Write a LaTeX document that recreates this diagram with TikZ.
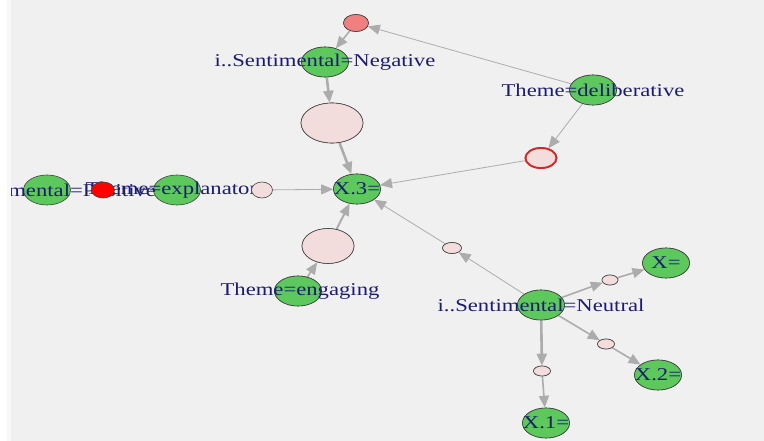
\documentclass[tikz,border=0pt]{standalone}
\usepackage{fontspec}
\setmainfont{Liberation Serif}
\usepackage{graphicx}
\usetikzlibrary{shapes.geometric,arrows.meta}
\definecolor{bg}{HTML}{F0F0F0}
\definecolor{bgedge}{HTML}{F7F7F7}
\definecolor{grn}{HTML}{5DC95D}
\definecolor{pnk}{HTML}{F2DCDC}
\definecolor{rosy}{HTML}{F08080}
\definecolor{lbl}{HTML}{1C1C6E}
\definecolor{edg}{HTML}{ACACAC}
\definecolor{ringred}{HTML}{D02828}
\newcommand{\wtxt}[1]{\scalebox{1.26}[1]{#1}}
\begin{document}
\begin{tikzpicture}[x=1pt,y=-1pt,
  vtx/.style={ellipse, draw=black!75, line width=0.6pt, inner sep=0pt},
  gnode/.style={vtx, fill=grn, minimum width=47pt, minimum height=30pt},
  pnode/.style={vtx, fill=pnk},
  lab/.style={inner sep=0pt, text=lbl, font=\fontsize{18}{18}\selectfont},
  conn/.style={draw=edg, line width=#1, -{Triangle[length=12pt,width=10pt]}},
  conn/.default=0.8pt
]
\useasboundingbox (0,0) rectangle (764,441);
\fill[white] (0,0) rectangle (764,441);
\fill[bgedge] (7,0) rectangle (764,441);
\fill[bg] (11,0) rectangle (764,441);
\clip (11,0) rectangle (764,441);

% vertex positions
\coordinate (cTop) at (356,23);
\coordinate (cNeg) at (325,62);
\coordinate (cDel) at (593,90);
\coordinate (cBigA) at (332,123);
\coordinate (cRing) at (541,158);
\coordinate (cX3) at (357,189);
\coordinate (cPos) at (47,190);
\coordinate (cRed) at (103,190);
\coordinate (cExp) at (177,190);
\coordinate (cPk262) at (262,190);
\coordinate (cBigB) at (328,246);
\coordinate (cPk452) at (452,248);
\coordinate (cEng) at (298,291);
\coordinate (cNeu) at (541,305);
\coordinate (cX) at (666,263);
\coordinate (cPk610) at (610,280);
\coordinate (cPk606) at (606,344);
\coordinate (cX2) at (658,375);
\coordinate (cPk542) at (542,371);
\coordinate (cX1) at (546,423);

% green item vertices
\node[gnode] (neg) at (cNeg) {};
\node[gnode] (del) at (cDel) {};
\node[gnode] (x3) at (cX3) {};
\node[gnode] (pos) at (cPos) {};
\node[gnode] (exp) at (cExp) {};
\node[gnode] (eng) at (cEng) {};
\node[gnode] (neu) at (cNeu) {};
\node[gnode] (xx) at (cX) {};
\node[gnode] (x2) at (cX2) {};
\node[gnode] (x1) at (cX1) {};

% rule vertices
\node[vtx, fill=rosy, minimum width=25pt, minimum height=17pt] (top) at (cTop) {};
\node[pnode, minimum width=62pt, minimum height=40pt] (biga) at (cBigA) {};
\node[pnode, draw=ringred, line width=1.8pt, minimum width=31pt, minimum height=20pt] (ring) at (cRing) {};
\node[pnode, minimum width=52pt, minimum height=35pt] (bigb) at (cBigB) {};
\node[pnode, minimum width=19pt, minimum height=11pt] (p452) at (cPk452) {};
\node[pnode, minimum width=16pt, minimum height=10pt] (p610) at (cPk610) {};
\node[pnode, minimum width=17pt, minimum height=10pt] (p606) at (cPk606) {};
\node[pnode, minimum width=17pt, minimum height=10pt] (p542) at (cPk542) {};

% edges
\draw[conn=0.8pt] (del) -- (top);
\draw[conn=1.6pt] (top) -- (neg);
\draw[conn=2.6pt] (neg) -- (biga);
\draw[conn=2.6pt] (biga) -- (x3);
\draw[conn=0.8pt] (del) -- (ring);
\draw[conn=0.8pt] (ring) -- (x3);
\draw[conn=0.8pt] (cPk262) -- (x3);
\draw[conn=1.6pt] (eng) -- (bigb);
\draw[conn=2.0pt] (bigb) -- (x3);
\draw[conn=0.8pt] (neu) -- (p452);
\draw[conn=0.8pt] (p452) -- (x3);
\draw[conn=1.6pt] (neu) -- (p610);
\draw[conn=1.6pt] (p610) -- (xx);
\draw[conn=1.6pt] (neu) -- (p606);
\draw[conn=1.6pt] (p606) -- (x2);
\draw[conn=2.6pt] (neu) -- (p542);
\draw[conn=1.6pt] (p542) -- (x1);

% redraw vertices above edges
\node[gnode] at (cNeg) {};
\node[gnode] at (cDel) {};
\node[gnode] at (cX3) {};
\node[gnode] at (cEng) {};
\node[gnode] at (cNeu) {};
\node[gnode] at (cX) {};
\node[gnode] at (cX2) {};
\node[gnode] at (cX1) {};
\node[vtx, fill=rosy, minimum width=25pt, minimum height=17pt] at (cTop) {};
\node[pnode, minimum width=62pt, minimum height=40pt] at (cBigA) {};
\node[pnode, draw=ringred, line width=1.8pt, minimum width=31pt, minimum height=20pt] at (cRing) {};
\node[pnode, minimum width=52pt, minimum height=35pt] at (cBigB) {};
\node[pnode, minimum width=19pt, minimum height=11pt] at (cPk452) {};
\node[pnode, minimum width=16pt, minimum height=10pt] at (cPk610) {};
\node[pnode, minimum width=17pt, minimum height=10pt] at (cPk606) {};
\node[pnode, minimum width=17pt, minimum height=10pt] at (cPk542) {};

% labels
\node[lab] (lneg) at (cNeg) {\wtxt{i..Sentimental=Negative}};
\node[lab] (ldel) at (cDel) {\wtxt{Theme=deliberative}};
\node[lab] (lx3) at (cX3) {\wtxt{X.3=}};
\node[lab] (lpos) at (50,190) {\wtxt{i..Sentimental=Positive}};
\node[lab] (lexp) at (cExp) {\wtxt{Theme=explanatory}};
\node[lab] (leng) at (300,291) {\wtxt{Theme=engaging}};
\node[lab] (lneu) at (cNeu) {\wtxt{i..Sentimental=Neutral}};
\node[lab] (lxx) at (cX) {\wtxt{X=}};
\node[lab] (lx2) at (cX2) {\wtxt{X.2=}};
\node[lab] (lx1) at (cX1) {\wtxt{X.1=}};

% vertices drawn over the labels
\node[vtx, fill=red, minimum width=23pt, minimum height=16pt] (red) at (cRed) {};
\node[pnode, minimum width=21pt, minimum height=16pt] (p262) at (cPk262) {};
\end{tikzpicture}
\end{document}
